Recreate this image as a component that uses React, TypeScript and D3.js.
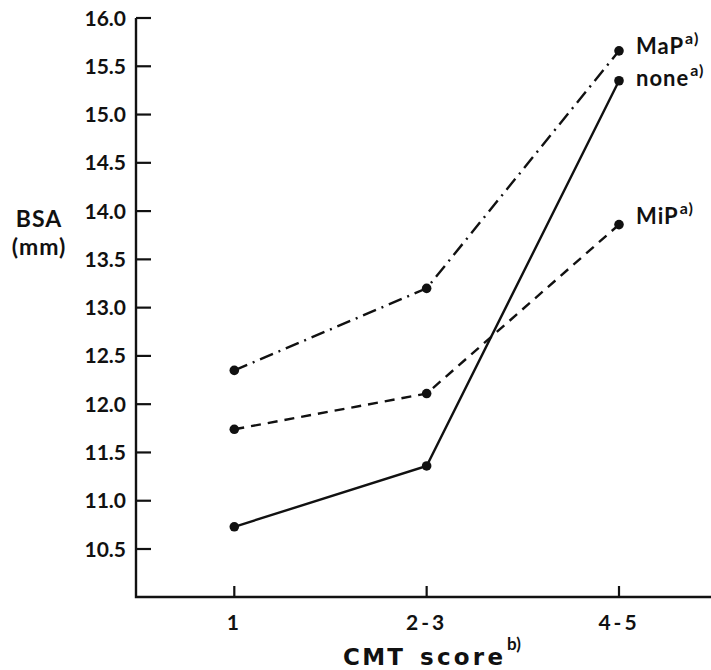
import React from "react";
import * as d3 from "d3";

const categories = ["1", "2-3", "4-5"];
const yTicks = [10.5, 11.0, 11.5, 12.0, 12.5, 13.0, 13.5, 14.0, 14.5, 15.0, 15.5, 16.0];
const mapValues = [12.35, 13.2, 15.66];
const noneValues = [10.73, 11.36, 15.35];
const mipValues = [11.74, 12.11, 13.86];
const seriesNames = ["MaP", "none", "MiP"];

const W = 711;
const H = 670;
const FONT = "Lato, 'DejaVu Sans', sans-serif";
const WIDE = "'DejaVu Sans', sans-serif";

export default function App() {
  const x = d3.scalePoint<string>().domain(categories).range([234.3, 619]);
  const y = d3.scaleLinear().domain([10.5, 16.0]).range([549, 18]);
  const axisX = 136;
  const axisY = 597;
  const line = d3
    .line<number>()
    .x((_, i) => x(categories[i]) as number)
    .y((d) => y(d));

  const series = [
    { name: seriesNames[0], values: mapValues, dash: "14 6 2 6" },
    { name: seriesNames[1], values: noneValues, dash: "none" },
    { name: seriesNames[2], values: mipValues, dash: "10 7" },
  ];
  const labelDy = [3, 5, -1];

  return (
    <svg width={W} height={H} style={{ position: "absolute", left: 0, top: 0, background: "#fff" }}>
      <rect width={W} height={H} fill="#fff" />
      <path d={`M${axisX},${y(16)} V${axisY} H${W}`} fill="none" stroke="#111" strokeWidth={2.4} />
      {yTicks.map((t) => (
        <g key={t}>
          <line x1={axisX} x2={axisX + 15} y1={y(t)} y2={y(t)} stroke="#111" strokeWidth={2.2} />
          <text
            x={126}
            y={y(t) + 7.5}
            textAnchor="end"
            fontFamily={FONT}
            fontWeight={700}
            fontSize={21}
            fill="#111"
          >
            {t.toFixed(1)}
          </text>
        </g>
      ))}
      {categories.map((c) => (
        <g key={c}>
          <line x1={x(c)} x2={x(c)} y1={axisY} y2={axisY - 11} stroke="#111" strokeWidth={2.2} />
          <text
            x={x(c)}
            y={630}
            textAnchor="middle"
            fontFamily={FONT}
            fontWeight={700}
            fontSize={21}
            letterSpacing={3}
            fill="#111"
          >
            {c}
          </text>
        </g>
      ))}
      <text x={343} y={665} fontFamily={WIDE} fontWeight={700} fontSize={23} fill="#111">
        <tspan textLength={60} lengthAdjust="spacing">CMT</tspan>
        <tspan x={420} textLength={83} lengthAdjust="spacing">score</tspan>
      </text>
      <text x={507} y={650} fontFamily={FONT} fontWeight={700} fontSize={17} fill="#111">
        b)
      </text>
      <text x={39} y={227} textAnchor="middle" fontFamily={FONT} fontWeight={700} fontSize={23} letterSpacing={1} fill="#111">
        BSA
      </text>
      <text x={39} y={255} textAnchor="middle" fontFamily={FONT} fontWeight={700} fontSize={23} letterSpacing={1} fill="#111">
        (mm)
      </text>
      {series.map((s, si) => (
        <g key={s.name}>
          <path d={line(s.values) || ""} fill="none" stroke="#111" strokeWidth={2.4} strokeDasharray={s.dash} />
          {s.values.map((v, i) => (
            <circle key={i} cx={x(categories[i])} cy={y(v)} r={4.8} fill="#111" />
          ))}
          <text
            x={636}
            y={y(s.values[2]) + labelDy[si]}
            fontFamily={FONT}
            fontWeight={700}
            fontSize={22}
            letterSpacing={1}
            fill="#111"
          >
            {s.name}
            <tspan dx={1} dy={-10} fontSize={16}>
              a)
            </tspan>
          </text>
        </g>
      ))}
    </svg>
  );
}
